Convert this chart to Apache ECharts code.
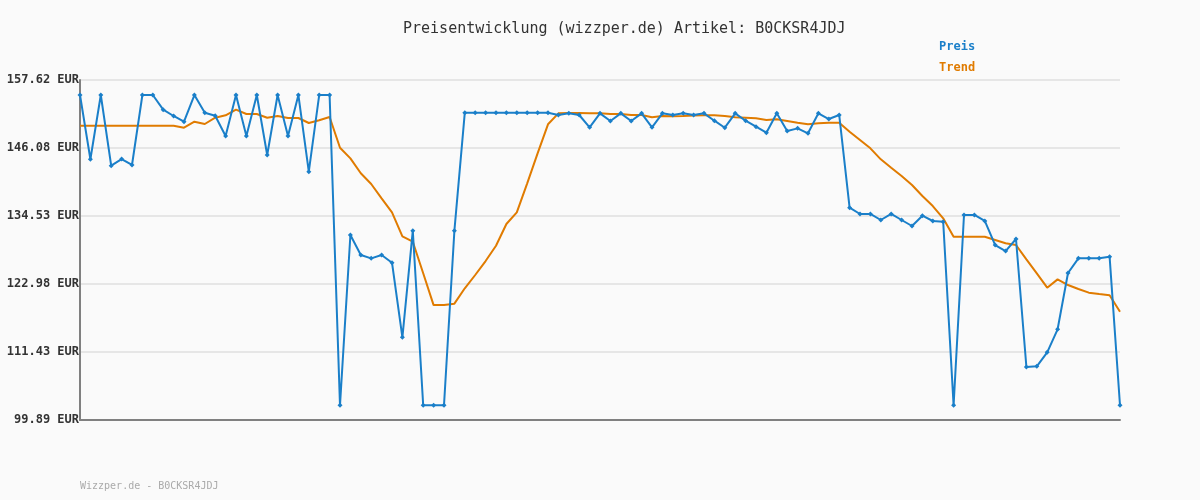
<!DOCTYPE html>
<html><head><meta charset="utf-8">
<script src="https://cdn.jsdelivr.net/npm/echarts@6/dist/echarts.min.js"></script>
<style>html,body{margin:0;padding:0;background:#fafafa}#c{width:1200px;height:500px}</style>
</head><body><div id="c"></div>
<script>
const titleText = 'Preisentwicklung (wizzper.de) Artikel: B0CKSR4JDJ';
const footerText = 'Wizzper.de - B0CKSR4JDJ';
const yTickLabels = ['99.89', '111.43', '122.98', '134.53', '146.08', '157.62'];
const yMin = 99.89, yMax = 157.62;
const preis = [
155.07, 144.16, 155.07, 143.07, 144.2, 143.19, 155.07, 155.07, 152.58, 151.51,
150.54, 155.07, 152.07, 151.56, 148.11, 155.07, 148.11, 155.07, 144.88, 155.07,
148.11, 155.07, 142.05, 155.07, 155.07, 102.4, 131.3, 127.91, 127.34, 127.91,
126.6, 113.93, 132.03, 102.4, 102.4, 102.4, 132.03, 152.07, 152.07, 152.07,
152.07, 152.07, 152.07, 152.07, 152.07, 152.07, 151.68, 151.96, 151.68, 149.59,
151.96, 150.66, 151.96, 150.66, 151.96, 149.59, 151.96, 151.68, 151.96, 151.68,
151.96, 150.71, 149.52, 151.96, 150.71, 149.69, 148.67, 151.96, 148.96, 149.41,
148.57, 151.96, 150.99, 151.68, 135.94, 134.87, 134.87, 133.85, 134.87, 133.85,
132.83, 134.58, 133.68, 133.56, 102.4, 134.7, 134.7, 133.7, 129.6, 128.58,
130.62, 108.89, 109.0, 111.38, 115.29, 124.85, 127.34, 127.34, 127.34, 127.62,
102.4
];
const trend = [
149.86, 149.86, 149.86, 149.86, 149.86, 149.86, 149.86, 149.86, 149.86, 149.86,
149.52, 150.54, 150.15, 151.22, 151.62, 152.58, 151.85, 151.85, 151.22, 151.51,
151.17, 151.17, 150.32, 150.78, 151.34, 146.12, 144.32, 141.78, 139.96, 137.53,
135.15, 131.08, 130.16, 124.8, 119.4, 119.4, 119.64, 122.25, 124.51, 126.88,
129.48, 133.17, 135.15, 140.08, 145.17, 150.1, 151.96, 152.02, 152.02, 151.96,
151.96, 151.85, 151.85, 151.68, 151.68, 151.28, 151.51, 151.45, 151.51, 151.59,
151.62, 151.62, 151.51, 151.28, 151.22, 151.11, 150.83, 150.94, 150.66, 150.37,
150.1, 150.27, 150.37, 150.37, 148.84, 147.43, 146.02, 144.15, 142.73, 141.32,
139.79, 137.92, 136.22, 134.14, 131.01, 131.01, 131.01, 131.0, 130.45, 129.89,
129.6, 127.17, 124.8, 122.36, 123.77, 122.81, 122.13, 121.51, 121.28, 121.06,
118.28
];
const categories = preis.map((_, i) => String(i + 1));
const yInterval = (yMax - yMin) / 5;
const mono = 'DejaVu Sans Mono';
const chart = echarts.init(document.getElementById('c'));
chart.setOption({
  backgroundColor: '#fafafa',
  animation: false,
  title: {
    text: titleText, left: 398, top: 17,
    textStyle: { fontFamily: mono, fontSize: 15, fontWeight: 'normal', color: '#333' }
  },
  legend: {
    orient: 'vertical', left: 929, top: 36, itemGap: 9, icon: 'none', itemWidth: 0, itemHeight: 0,
    selectedMode: false,
    data: [
      { name: 'Preis', textStyle: { color: '#1a7fc9' } },
      { name: 'Trend', textStyle: { color: '#e07b00' } }
    ],
    textStyle: { fontFamily: mono, fontSize: 12, fontWeight: 'bold' }
  },
  graphic: [{
    type: 'text', left: 80, top: 481,
    style: { text: footerText, fill: '#aaaaaa', font: '10px "DejaVu Sans Mono"' }
  }],
  grid: { left: 80, right: 80, top: 80, bottom: 80, containLabel: false },
  xAxis: {
    type: 'category', data: categories, boundaryGap: false,
    axisLine: { show: true, lineStyle: { color: '#808080', width: 2 } },
    axisTick: { show: false }, axisLabel: { show: false }, splitLine: { show: false }
  },
  yAxis: {
    type: 'value', min: yMin, max: yMax, interval: yInterval,
    axisLine: { show: true, lineStyle: { color: '#808080', width: 2 } },
    axisTick: { show: false },
    axisLabel: {
      margin: 1, fontFamily: mono, fontSize: 12, fontWeight: 'bold', color: '#333',
      formatter: v => yTickLabels[Math.round((v - yMin) / yInterval)] + ' EUR'
    },
    splitLine: { show: true, lineStyle: { color: '#e6e6e6', width: 2 } }
  },
  series: [
    {
      name: 'Preis', type: 'line', data: preis, color: '#1a7fc9',
      symbol: 'diamond', symbolSize: 5, showSymbol: true,
      lineStyle: { width: 2, color: '#1a7fc9' }, itemStyle: { color: '#1a7fc9' }, z: 3
    },
    {
      name: 'Trend', type: 'line', data: trend, color: '#e07b00',
      symbol: 'none', lineStyle: { width: 2, color: '#e07b00' }, z: 2
    }
  ]
});
</script></body></html>
